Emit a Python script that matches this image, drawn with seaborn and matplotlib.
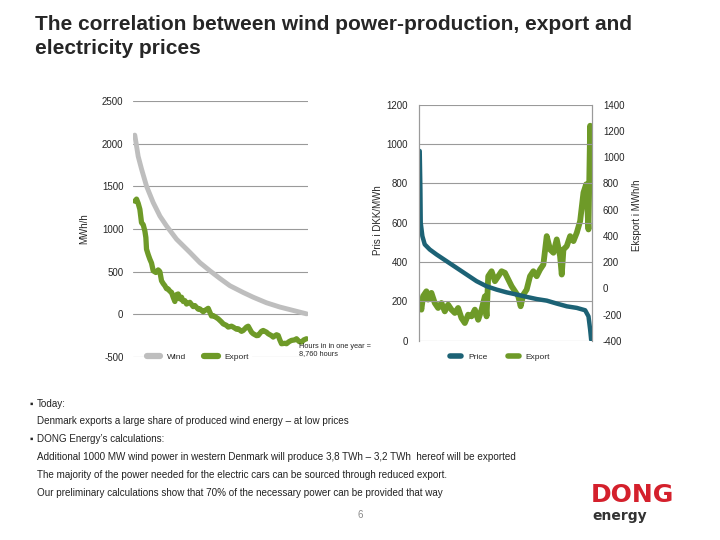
import numpy as np
import pandas as pd
import seaborn as sns
import matplotlib.pyplot as plt
from matplotlib.lines import Line2D

# left chart: duration curves (hours in the year, MWh/h)
wind_hours = [80, 250, 420, 670, 1000, 1340, 1670, 2170, 2840, 3340, 3840, 4340,
              4840, 5510, 6010, 6670, 7340, 8010, 8680]
wind = [2100, 1850, 1700, 1500, 1310, 1150, 1035, 880, 725, 605, 510, 420,
        335, 255, 200, 135, 85, 45, 5]

export_hours = [83, 167, 250, 334, 417, 501, 584, 634, 667, 751, 834, 918, 1001, 1135,
                1252, 1335, 1418, 1502, 1585, 1669, 1752, 1836, 1919, 2002, 2086, 2169,
                2253, 2336, 2420, 2503, 2586, 2670, 2837, 3004, 3087, 3254, 3337, 3504,
                3588, 3755, 3838, 3921, 4005, 4171, 4255, 4422, 4505, 4672, 4756, 4923,
                5006, 5173, 5256, 5423, 5506, 5673, 5757, 5924, 6007, 6174, 6258, 6424,
                6508, 6675, 6758, 6925, 7008, 7175, 7259, 7342, 7426, 7592, 7676, 7809,
                7926, 8093, 8176, 8310, 8427, 8544, 8677]
export = [1326, 1350, 1300, 1230, 1073, 1050, 976, 900, 763, 700, 646, 600, 510, 490,
          520, 500, 393, 360, 335, 300, 296, 270, 257, 200, 150, 230,
          238, 180, 200, 150, 160, 120, 140, 90, 102, 60, 63, 30,
          44, 70, 24, -20, -15, -40, -53, -90, -112, -130, -150, -140,
          -150, -175, -170, -200, -190, -150, -140, -210, -228, -250, -248, -200,
          -190, -210, -228, -250, -267, -240, -248, -300, -345, -340, -345, -320,
          -306, -300, -287, -320, -326, -300, -287]

# right chart: price (DKK/MWh) and export (MWh/h) sorted by price
price_hours = [34, 68, 85, 169, 288, 542, 881, 1389, 1898, 2406, 2914, 3423, 3931,
               4439, 4948, 5456, 5964, 6473, 6981, 7489, 7997, 8421, 8590, 8675, 8726]
price = [965, 770, 600, 532, 490, 464, 439, 405, 371, 337, 303, 277, 260,
         246, 235, 223, 212, 204, 189, 175, 167, 155, 124, 56, 5]

exp2_hours = [34, 119, 203, 373, 457, 627, 796, 966, 1135, 1305, 1474, 1644, 1813, 1982,
              2152, 2321, 2491, 2660, 2830, 2999, 3169, 3338, 3423, 3507, 3677, 3846,
              4016, 4185, 4355, 4524, 4693, 4863, 5032, 5151, 5287, 5456, 5626, 5795,
              5964, 6134, 6303, 6473, 6642, 6812, 6981, 7150, 7235, 7320, 7489, 7659,
              7828, 7997, 8167, 8336, 8472, 8590, 8675, 8760]
exp2 = [-112, -163, -61, -23, -86, -35, -112, -150, -112, -176, -125, -163, -188, -150,
        -227, -265, -201, -214, -163, -240, -163, -61, -214, 92, 130, 54,
        92, 130, 118, 67, 16, -23, -61, -137, -48, -10, 92, 130,
        92, 143, 181, 398, 296, 271, 373, 245, 105, 296, 322, 398,
        360, 424, 513, 730, 793, 449, 1240, 1010]

title = "The correlation between wind power-production, export and\nelectricity prices"
bullets = [
    ("\u25aa", "Today:"),
    ("", "Denmark exports a large share of produced wind energy \u2013 at low prices"),
    ("\u25aa", "DONG Energy\u2019s calculations:"),
    ("", "Additional 1000 MW wind power in western Denmark will produce 3,8 TWh \u2013 3,2 TWh  hereof will be exported"),
    ("", "The majority of the power needed for the electric cars can be sourced through reduced export."),
    ("", "Our preliminary calculations show that 70% of the necessary power can be provided that way"),
]

gray_c = "#BEBEBE"
green_c = "#6E9A28"
teal_c = "#1C6275"
grid_c = "#9A9A9A"

sns.set_style("white")
plt.rcParams['font.family'] = ['Liberation Sans', 'DejaVu Sans']
plt.rcParams['axes.unicode_minus'] = False

fig = plt.figure(figsize=(7.2, 5.4), dpi=100)

# ---- left chart
ax1 = fig.add_axes([0.185, 0.339, 0.243, 0.474])
sns.lineplot(x=wind_hours, y=wind, ax=ax1, color=gray_c, linewidth=3.5, zorder=3)
sns.lineplot(x=export_hours, y=export, ax=ax1, color=green_c, linewidth=3.8, zorder=4)
ax1.set_xlim(0, 8760)
ax1.set_ylim(-500, 2500)
ax1.set_yticks(range(-500, 2501, 500))
ax1.set_xticks([])
ax1.yaxis.grid(True, color=grid_c, linewidth=0.8)
for s in ax1.spines.values():
    s.set_visible(False)
ax1.tick_params(axis='y', length=0, pad=7, labelsize=7)
ax1.set_ylabel("MWh/h", fontsize=7)
ax1.yaxis.set_label_coords(-0.25, 0.5)
leg1 = ax1.legend(handles=[Line2D([], [], color=gray_c, lw=4.5, label="Wind"),
                           Line2D([], [], color=green_c, lw=4.5, label="Export")],
                  loc='center', bbox_to_anchor=(0.37, 0.0), ncol=2, fontsize=6,
                  frameon=True, handlelength=1.6, columnspacing=2.2,
                  borderpad=0.3)
leg1.get_frame().set_facecolor("white")
leg1.get_frame().set_edgecolor("white")
leg1.get_frame().set_alpha(1)
leg1.set_zorder(10)
fig.text(0.415, 0.352, "Hours in in one year =\n8,760 hours", fontsize=5.3,
         va='center', ha='left', linespacing=1.1)

# ---- right chart
ax2 = fig.add_axes([0.582, 0.369, 0.240, 0.437])
ax3 = ax2.twinx()
sns.lineplot(x=exp2_hours, y=exp2, ax=ax3, color=green_c, linewidth=4.2)
sns.lineplot(x=price_hours, y=price, ax=ax2, color=teal_c, linewidth=3.2)
ax2.set_zorder(ax3.get_zorder() + 1)
ax2.patch.set_visible(False)
ax2.set_xlim(0, 8760)
ax2.set_ylim(0, 1200)
ax2.set_yticks(range(0, 1201, 200))
ax3.set_ylim(-400, 1400)
ax3.set_yticks(range(-400, 1401, 200))
ax2.set_xticks([])
ax2.yaxis.grid(True, color=grid_c, linewidth=0.8)
for a in (ax2, ax3):
    for k, s in a.spines.items():
        s.set_visible(k in ("left", "right"))
        s.set_color(grid_c)
        s.set_linewidth(0.8)
ax2.tick_params(axis='y', length=0, pad=8, labelsize=7)
ax3.tick_params(axis='y', length=0, pad=8, labelsize=7)
ax2.set_ylabel("Pris i DKK/MWh", fontsize=7)
ax2.yaxis.set_label_coords(-0.21, 0.51)
ax3.set_ylabel("Eksport i MWh/h", fontsize=7)
ax3.yaxis.set_label_coords(1.23, 0.53)
ax2.legend(handles=[Line2D([], [], color=teal_c, lw=4, label="Price"),
                    Line2D([], [], color=green_c, lw=4, label="Export")],
           loc='center', bbox_to_anchor=(0.47, -0.068), ncol=2, fontsize=6,
           frameon=False, handlelength=1.3, columnspacing=2.5)

# ---- title and text
fig.text(0.049, 0.972, title, fontsize=15, fontweight='bold', va='top', ha='left',
         linespacing=1.3)
ys = [404, 421, 439, 457, 475, 493]
for (b, t), y in zip(bullets, ys):
    if b:
        fig.text(29 / 720, 1 - y / 540, b, fontsize=7, va='center', ha='left')
    fig.text(37 / 720, 1 - y / 540, t, fontsize=7.1, va='center', ha='left',
             color="#222222")
fig.text(357 / 720, 1 - 515 / 540, "6", fontsize=7, color="#888888", va='center')
fig.text(591 / 720, 1 - 495 / 540, "DONG", fontsize=18, fontweight='bold',
         family='DejaVu Sans', color="#D4202C", va='center', ha='left')
fig.text(592 / 720, 1 - 516 / 540, "energy", fontsize=10, fontweight='bold',
         family='DejaVu Sans', color="#333333", va='center', ha='left')

fig.savefig("out.png", dpi=100)
